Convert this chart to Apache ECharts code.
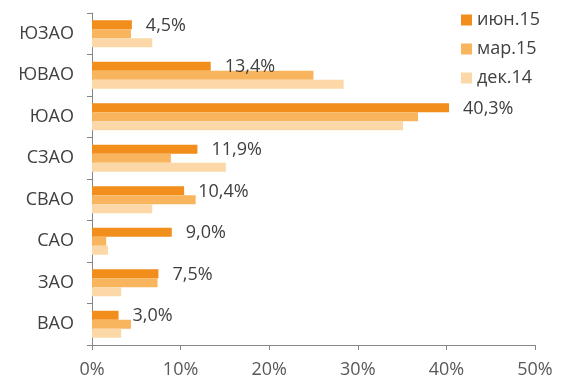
<!DOCTYPE html>
<html><head><meta charset="utf-8">
<script src="https://cdn.jsdelivr.net/npm/echarts@6/dist/echarts.min.js"></script>
<style>html,body{margin:0;padding:0;background:#fff}#c{width:582px;height:392px}</style>
</head><body><div id="c"></div>
<script>
const categories = ['ВАО','ЗАО','САО','СВАО','СЗАО','ЮАО','ЮВАО','ЮЗАО'];
const jun15 = [3.0, 7.5, 9.0, 10.4, 11.9, 40.3, 13.4, 4.5];
const mar15 = [4.4, 7.4, 1.6, 11.7, 8.9, 36.8, 25.0, 4.4];
const dec14 = [3.3, 3.3, 1.8, 6.8, 15.1, 35.1, 28.4, 6.8];
const xTicks = [0, 10, 20, 30, 40, 50];
const names = ['июн.15','мар.15','дек.14'];
const colors = {'июн.15':'#F18E1C','мар.15':'#F9B45E','дек.14':'#FCD8A8'};
const font = 'Open Sans, DejaVu Sans, sans-serif';
const chart = echarts.init(document.getElementById('c'), null, {renderer:'canvas'});
chart.setOption({
  animation:false,
  textStyle:{fontFamily:font},
  legend:{
    data:names, orient:'vertical', left:456, top:6, itemWidth:11, itemHeight:11,
    itemGap:11, icon:'rect', textStyle:{fontSize:18,color:'#404040',fontFamily:font}
  },
  grid:{left:92, right:47, top:13, bottom:47, containLabel:false},
  xAxis:{
    type:'value', min:xTicks[0], max:xTicks[xTicks.length-1], interval:10,
    axisLine:{show:true,lineStyle:{color:'#868686'}},
    axisTick:{show:true,length:5,lineStyle:{color:'#868686'}},
    splitLine:{show:false},
    axisLabel:{formatter:v=>v+'%', fontSize:18, color:'#595959', margin:16, fontFamily:font}
  },
  yAxis:{
    type:'category', data:categories,
    axisLine:{show:true,lineStyle:{color:'#868686'}},
    axisTick:{show:true,length:5,lineStyle:{color:'#868686'}},
    axisLabel:{fontSize:18,color:'#404040',margin:18,fontFamily:font}
  },
  series:[
    {name:'июн.15', type:'bar', data:jun15, itemStyle:{color:colors['июн.15']}, barWidth:9, barGap:'0%', barCategoryGap:'35%',
     label:{show:true, position:'right', distance:14, offset:[0,1], fontSize:18, color:'#404040', fontFamily:font,
       formatter:p=>p.value.toFixed(1).replace('.',',')+'%'}},
    {name:'мар.15', type:'bar', data:mar15, itemStyle:{color:colors['мар.15']}, barWidth:9, barGap:'0%'},
    {name:'дек.14', type:'bar', data:dec14, itemStyle:{color:colors['дек.14']}, barWidth:9, barGap:'0%'}
  ]
});
</script></body></html>
